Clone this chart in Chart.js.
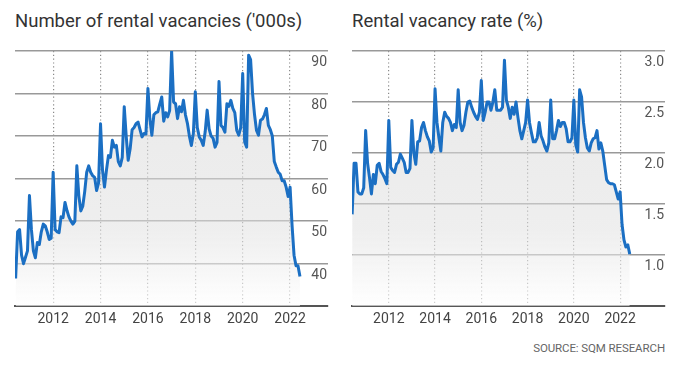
<!DOCTYPE html>
<html>
<head>
<meta charset="utf-8">
<script src="https://cdn.jsdelivr.net/npm/chart.js@4.4.1/dist/chart.umd.min.js"></script>
<style>
  html, body { margin: 0; padding: 0; background: #fff; }
  body { width: 687px; height: 373px; position: relative; overflow: hidden; font-family: Roboto, "Open Sans", sans-serif; }
  .title { position: absolute; top: 10px; font-size: 18.5px; color: #333; white-space: nowrap; }
  .source { position: absolute; top: 341px; right: 22px; font-size: 11.5px; color: #666; white-space: nowrap; letter-spacing: -0.1px; }
  canvas { position: absolute; top: 0; }
</style>
</head>
<body>
<div class="title" style="left:15px">Number of rental vacancies ('000s)</div>
<div class="title" style="left:352px">Rental vacancy rate (%)</div>
<div class="source">SOURCE: SQM RESEARCH</div>
<div style="position:absolute;left:0;top:0;width:343px;height:373px"><canvas id="c1"></canvas></div>
<div style="position:absolute;left:343px;top:0;width:344px;height:373px"><canvas id="c2"></canvas></div>
<script>
// Monthly series, June 2010 to June 2022
const firstYear = 2010;
const firstMonth = 6;

// Number of rental vacancies ('000s)
const vacancies = [
  36.5, 47.5, 48, 42, 40, 41.5, 43,                                  // 2010 Jun-Dec
  56, 48, 43, 41.4, 45, 44.5, 47.5, 49.3, 48.9, 47.5, 45.7, 46,      // 2011
  61.5, 48, 47.5, 47.3, 51, 50.8, 54.4, 52.5, 51, 50, 49.3, 50,      // 2012
  63, 56, 52.4, 53.5, 57, 61.5, 63, 61.5, 60.7, 60.3, 57.2, 59,      // 2013
  72.9, 62, 58, 62, 65.4, 65, 69, 67.4, 67.8, 64, 63, 65,            // 2014
  76.9, 70, 64.3, 67, 71.5, 72, 72.9, 73.3, 71.5, 69.8, 70.6, 70.5,  // 2015
  81.2, 74, 70.2, 75, 75.5, 75.7, 77.5, 79.2, 73.5, 75.5, 74.5, 76,  // 2016
  90, 78, 77.6, 74.1, 76.9, 75.7, 78.4, 75, 73, 70, 67.8, 70.6,      // 2017
  80.4, 72, 69.8, 69, 67.8, 71, 76.1, 71.7, 70, 69.5, 67.4, 68.5,    // 2018
  82.8, 72.5, 72, 70.9, 77.6, 77, 78.4, 76.5, 75.5, 71.3, 70.2, 72,  // 2019
  84.7, 68.6, 67.4, 89, 88, 80, 75, 71.3, 70.2, 73.7, 74, 75,        // 2020
  76.5, 72.5, 71.5, 70, 64, 62.7, 61.5, 61, 59.5, 59.5, 58, 55.8,    // 2021
  58, 49, 42, 39.5, 39.5, 37                                         // 2022 Jan-Jun
];

// Rental vacancy rate (%)
const vacancyRate = [
  1.40, 1.90, 1.90, 1.62, 1.60, 1.60, 1.66,                               // 2010 Jun-Dec
  2.22, 1.90, 1.76, 1.60, 1.79, 1.70, 1.88, 1.90, 1.82, 1.79, 1.75, 1.70, // 2011
  2.32, 1.86, 1.83, 1.81, 1.89, 1.91, 1.99, 1.95, 1.91, 1.81, 1.81, 1.85, // 2012
  2.32, 2.00, 1.89, 2.11, 2.12, 2.25, 2.30, 2.22, 2.16, 2.12, 2.01, 2.05, // 2013
  2.63, 2.30, 2.15, 2.02, 2.30, 2.40, 2.36, 2.34, 2.30, 2.22, 2.28, 2.25, // 2014
  2.62, 2.30, 2.22, 2.27, 2.40, 2.50, 2.51, 2.45, 2.40, 2.36, 2.33, 2.40, // 2015
  2.71, 2.32, 2.40, 2.50, 2.50, 2.42, 2.50, 2.62, 2.42, 2.42, 2.42, 2.45, // 2016
  2.91, 2.52, 2.45, 2.34, 2.45, 2.38, 2.50, 2.35, 2.22, 2.14, 2.22, 2.30, // 2017
  2.52, 2.30, 2.20, 2.11, 2.11, 2.15, 2.30, 2.17, 2.12, 2.06, 2.02, 2.10, // 2018
  2.52, 2.14, 2.14, 2.22, 2.32, 2.26, 2.30, 2.30, 2.24, 2.11, 2.11, 2.15, // 2019
  2.52, 2.08, 2.01, 2.62, 2.55, 2.30, 2.15, 2.05, 2.02, 2.10, 2.14, 2.15, // 2020
  2.22, 2.04, 2.10, 2.02, 1.88, 1.74, 1.71, 1.70, 1.70, 1.69, 1.62, 1.55, // 2021
  1.62, 1.30, 1.15, 1.08, 1.10, 1.01                                      // 2022 Jan-Jun
];

const yearTicks = [2012, 2014, 2016, 2018, 2020, 2022];
const vacancyTicks = [40, 50, 60, 70, 80, 90];
const rateTicks = [1.0, 1.5, 2.0, 2.5, 3.0];

function toPoints(values) {
  return values.map((v, i) => ({ x: firstYear + (firstMonth - 1 + i) / 12, y: v }));
}

function fillGradient(context) {
  const chart = context.chart;
  const area = chart.chartArea;
  if (!area) return 'rgba(230,230,230,0.6)';
  const g = chart.ctx.createLinearGradient(0, area.top, 0, area.bottom);
  g.addColorStop(0, 'rgba(215,215,215,0.55)');
  g.addColorStop(0.7, 'rgba(225,225,225,0.55)');
  g.addColorStop(1, 'rgba(255,255,255,0.6)');
  return g;
}

function makeChart(id, values, yMin, yMax, yTickVals, yFmt, xMin, xMax, pad) {
  return new Chart(document.getElementById(id), {
    type: 'line',
    data: {
      datasets: [{
        data: toPoints(values),
        borderColor: '#1b6fc3',
        borderWidth: 3,
        pointRadius: 0,
        tension: 0,
        borderJoinStyle: 'round',
        fill: 'start',
        backgroundColor: fillGradient
      }]
    },
    options: {
      responsive: true,
      maintainAspectRatio: false,
      animation: false,
      layout: { padding: pad },
      plugins: { legend: { display: false }, tooltip: { enabled: false } },
      scales: {
        x: {
          type: 'linear',
          min: xMin,
          max: xMax,
          afterBuildTicks: (s) => { s.ticks = yearTicks.map(v => ({ value: v })); },
          grid: { color: '#8a8a8a', lineWidth: 1.2, drawTicks: false },
          border: { display: true, color: '#555', width: 2, dash: [1.2, 2.6] },
          ticks: { color: '#444', font: { family: 'Roboto', size: 14 }, padding: 5, callback: (v) => String(v), maxRotation: 0 }
        },
        y: {
          position: 'right',
          min: yMin,
          max: yMax,
          afterBuildTicks: (s) => { s.ticks = yTickVals.map(v => ({ value: v })); },
          grid: { color: '#999', lineWidth: 1.5, drawTicks: false },
          border: { display: false },
          ticks: { mirror: true, padding: -1, labelOffset: 11.5, color: '#555', font: { family: 'Roboto', size: 14 }, callback: yFmt }
        }
      }
    }
  });
}

makeChart('c1', vacancies, 30, 90, vacancyTicks, (v) => String(v), 2010.39, 2023.6,
  { left: 15, top: 51, right: 15, bottom: 40 });
makeChart('c2', vacancyRate, 0.5, 3.0, rateTicks, (v) => v.toFixed(1), 2010.41, 2023.94,
  { left: 9, top: 51, right: 22, bottom: 40 });
</script>
</body>
</html>
